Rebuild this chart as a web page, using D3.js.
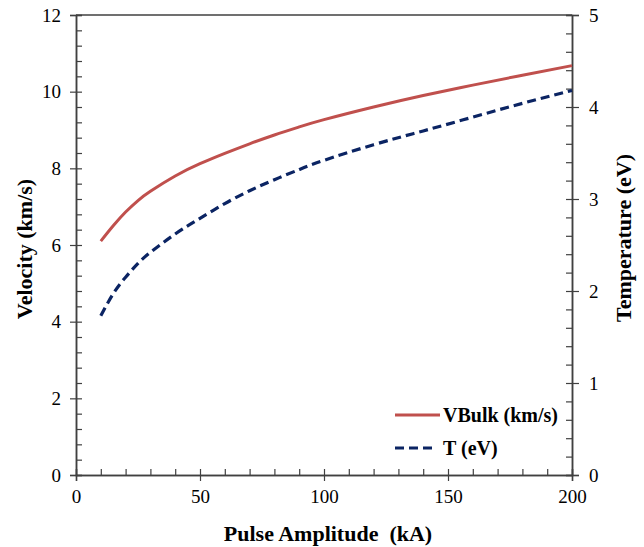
<!DOCTYPE html>
<meta charset="utf-8">
<style>
  body { margin: 0; background: #fff; }
  text { font-family: "Times New Roman", "Liberation Serif", "DejaVu Serif", Times, serif; fill: #000; }
  .title { font-size: 22px; font-weight: bold; white-space: pre; }
  .legend text { font-size: 20px; font-weight: bold; }
</style>
<script src="https://d3js.org/d3.v7.min.js"></script>
<body>
<script>

const width = 644;
const height = 547;
const margin = {top: 15, right: 72, bottom: 72, left: 76};

// pulse amplitude (kA)
const pulse = [10, 15, 20, 25, 30, 40, 50, 60, 70, 80, 90, 100, 120, 140, 160, 180, 200];
// bulk velocity (km/s)
const vbulk = [6.1, 6.5, 6.86, 7.16, 7.4, 7.8, 8.12, 8.39, 8.64, 8.87, 9.08, 9.27, 9.6, 9.9, 10.17, 10.43, 10.68];
// temperature (eV)
const temp = [1.73, 1.97, 2.15, 2.3, 2.42, 2.62, 2.79, 2.95, 3.09, 3.21, 3.32, 3.42, 3.59, 3.74, 3.89, 4.04, 4.18];

const xTicks = [0, 50, 100, 150, 200];
const yLeftTicks = [0, 2, 4, 6, 8, 10, 12];
const yRightTicks = [0, 1, 2, 3, 4, 5];

const axisColor = "#404040";
const serif = '"Times New Roman", "Liberation Serif", "DejaVu Serif", Times, serif';

const svg = d3.select("body").append("svg")
              .attr("width", width)
              .attr("height", height);

const x = d3.scaleLinear().domain([0, 200]).range([margin.left, width - margin.right]);
const yL = d3.scaleLinear().domain([0, 12]).range([height - margin.bottom, margin.top]);
const yR = d3.scaleLinear().domain([0, 5]).range([height - margin.bottom, margin.top]);

function styleAxis(g) {
  g.attr("font-family", serif).attr("font-size", 19);
  g.select(".domain").attr("stroke", axisColor).attr("stroke-width", 1.5);
  g.selectAll(".tick line").attr("stroke", axisColor).attr("stroke-width", 1.2);
  g.selectAll(".tick text").attr("fill", "#000").style("font-family", serif);
}

// minor ticks (inside)
svg.append("g")
   .attr("transform", `translate(0,${height - margin.bottom})`)
   .call(d3.axisTop(x).tickValues(d3.range(0, 201, 10)).tickSize(6).tickFormat(""))
   .call(styleAxis);
svg.append("g")
   .attr("transform", `translate(${margin.left},0)`)
   .call(d3.axisRight(yL).tickValues(d3.range(0, 12.01, 0.4)).tickSize(6).tickFormat(""))
   .call(styleAxis);
svg.append("g")
   .attr("transform", `translate(${width - margin.right},0)`)
   .call(d3.axisLeft(yR).tickValues(d3.range(0, 5.01, 0.2)).tickSize(6).tickFormat(""))
   .call(styleAxis);

// major ticks (outside) with labels
svg.append("g")
   .attr("transform", `translate(0,${height - margin.bottom})`)
   .call(d3.axisBottom(x).tickValues(xTicks).tickSize(6).tickPadding(9))
   .call(styleAxis);
svg.append("g")
   .attr("transform", `translate(${margin.left},0)`)
   .call(d3.axisLeft(yL).tickValues(yLeftTicks).tickSize(6).tickPadding(9))
   .call(styleAxis);
svg.append("g")
   .attr("transform", `translate(${width - margin.right},0)`)
   .call(d3.axisRight(yR).tickValues(yRightTicks).tickFormat(d3.format("d")).tickSize(7).tickPadding(10))
   .call(styleAxis);

// top border
svg.append("line")
   .attr("x1", margin.left).attr("x2", width - margin.right)
   .attr("y1", margin.top).attr("y2", margin.top)
   .attr("stroke", axisColor).attr("stroke-width", 1.5);

const lineV = d3.line().x((d, i) => x(pulse[i])).y(d => yL(d)).curve(d3.curveNatural);
const lineT = d3.line().x((d, i) => x(pulse[i])).y(d => yR(d)).curve(d3.curveNatural);

svg.append("path")
   .attr("d", lineV(vbulk))
   .attr("fill", "none")
   .attr("stroke", "#c0504d")
   .attr("stroke-width", 3);

svg.append("path")
   .attr("d", lineT(temp))
   .attr("fill", "none")
   .attr("stroke", "#0b2463")
   .attr("stroke-width", 3.2)
   .attr("stroke-dasharray", "9,5");

// axis titles
svg.append("text").attr("class", "title")
   .attr("x", 328).attr("y", 541)
   .attr("text-anchor", "middle")
   .text("Pulse Amplitude  (kA)");

svg.append("text").attr("class", "title")
   .attr("transform", "translate(32,249) rotate(-90)")
   .attr("text-anchor", "middle")
   .text("Velocity (km/s)");

svg.append("text").attr("class", "title")
   .attr("transform", "translate(631,238) rotate(-90)")
   .attr("text-anchor", "middle")
   .text("Temperature (eV)");

// legend
const legend = svg.append("g").attr("class", "legend");
legend.append("line")
      .attr("x1", 395).attr("x2", 440).attr("y1", 415).attr("y2", 415)
      .attr("stroke", "#c0504d").attr("stroke-width", 3);
legend.append("text").attr("x", 443).attr("y", 422).text("VBulk (km/s)");
legend.append("line")
      .attr("x1", 395).attr("x2", 437).attr("y1", 448).attr("y2", 448)
      .attr("stroke", "#0b2463").attr("stroke-width", 3.2)
      .attr("stroke-dasharray", "9,5");
legend.append("text").attr("x", 443).attr("y", 455).text("T (eV)");
</script>
</body>
